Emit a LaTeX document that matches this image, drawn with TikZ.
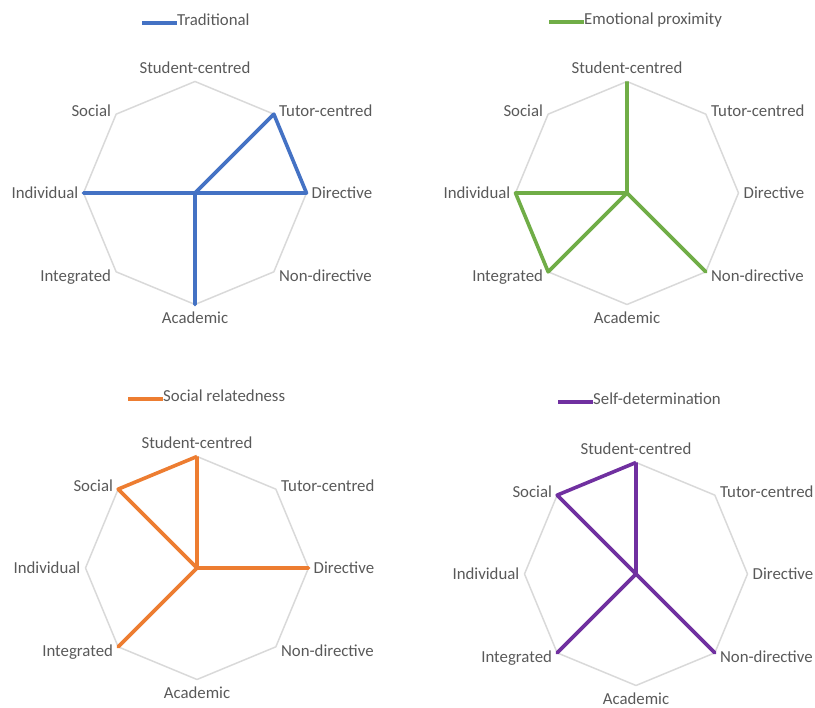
\documentclass[tikz,border=0pt]{standalone}
\usepackage{fontspec}
\setmainfont{Carlito}
\definecolor{rdxanh}{HTML}{4472C4}
\definecolor{rdluc}{HTML}{70AD47}
\definecolor{rdcam}{HTML}{ED7D31}
\definecolor{rdtim}{HTML}{7030A0}
\definecolor{rdchu}{HTML}{595959}
\definecolor{rdluoi}{HTML}{D9D9D9}
\usetikzlibrary{positioning}
\tikzset{
	luoi/.style={draw=rdluoi, line width=1.5pt, line join=round},
	nhan/.style={font=\fontsize{16.8}{20}\selectfont, text=rdchu, inner sep=0pt, text height=.7em, text depth=.2em},
	duong/.style={draw=#1, line width=3.6pt, line join=round},
}
% khung radar: bat giac, truc va nhan
\def\khungradar{%
	\coordinate (O) at (0,0);
	\foreach \g/\n in {90/sc,45/tc,0/di,-45/nd,-90/ac,-135/ig,180/iv,135/so}
		{\coordinate (\n) at (\g:r);}
	\draw[luoi] (sc)--(tc)--(di)--(nd)--(ac)--(ig)--(iv)--(so)--cycle;
	\node[nhan, above=6pt of sc] (l-sc) {Student-centred};
	\node[nhan, right=5pt of tc] (l-tc) {Tutor-centred};
	\node[nhan, right=5pt of di, yshift=-3pt] (l-di) {Directive};
	\node[nhan, right=5pt of nd, yshift=-7pt] (l-nd) {Non-directive};
	\node[nhan, below=12pt of ac] (l-ac) {Academic};
	\node[nhan, left=5pt of ig, yshift=-7pt] (l-ig) {Integrated};
	\node[nhan, left=5pt of iv, yshift=-3pt] (l-iv) {Individual};
	\node[nhan, left=5pt of so] (l-so) {Social};
}
\newcommand\chuthich[4]{%
	\node[nhan, anchor=west] (chu) at (#1,#2) {#4};
	\coordinate[left=35pt of chu.west] (g);
	\draw[duong=#3] (g) -- (chu.west);
}

\begin{document}
\begin{tikzpicture}[x=1pt, y=1pt, declare function={r=111.5;}]
	\useasboundingbox (0,0) rectangle (815,708);
	% Traditional
	\begin{scope}[shift={(195,515)}, name prefix=a-]
		\khungradar
		\chuthich{-18}{170}{rdxanh}{Traditional}
		\draw[duong=rdxanh] (O)--(tc)--(di)--(O)--(ac)--(O)--(iv)--(O);
	\end{scope}
	% Emotional proximity
	\begin{scope}[shift={(627,515)}, name prefix=b-]
		\khungradar
		\chuthich{-43}{171}{rdluc}{Emotional proximity}
		\draw[duong=rdluc] (sc)--(O)--(nd)--(O)--(ig)--(iv)--(O);
	\end{scope}
	% Social relatedness
	\begin{scope}[shift={(197,140)}, name prefix=c-]
		\khungradar
		\chuthich{-34}{169}{rdcam}{Social relatedness}
		\draw[duong=rdcam] (sc)--(O)--(di)--(O)--(ig)--(O)--(so)--(sc);
	\end{scope}
	% Self-determination
	\begin{scope}[shift={(636,134)}, name prefix=d-]
		\khungradar
		\chuthich{-43}{172}{rdtim}{Self-determination}
		\draw[duong=rdtim] (sc)--(O)--(nd)--(O)--(ig)--(O)--(so)--(sc);
	\end{scope}
\end{tikzpicture}
\end{document}
